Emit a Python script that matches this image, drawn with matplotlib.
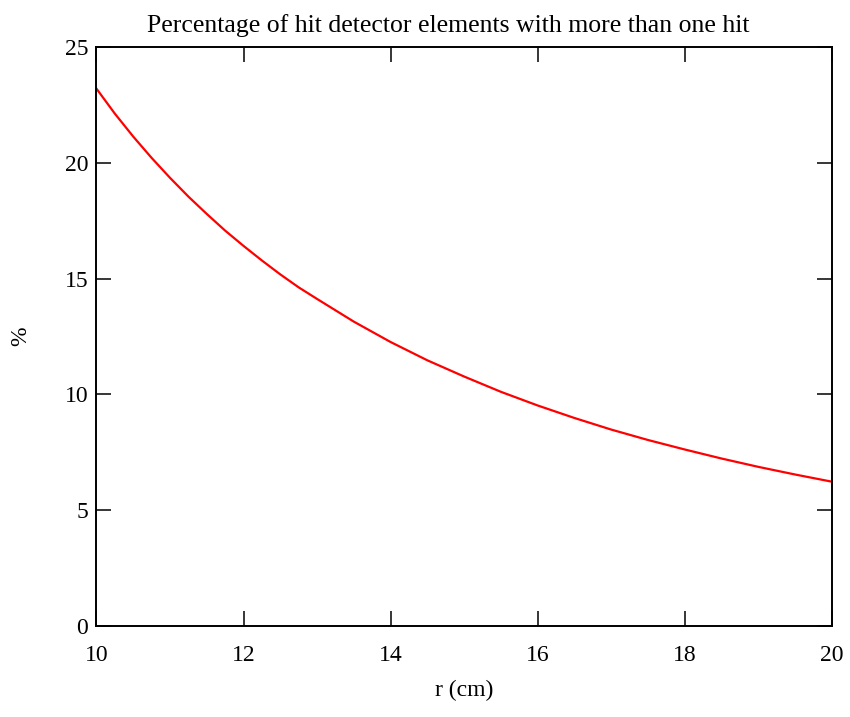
import numpy as np
import matplotlib.pyplot as plt

# radius (cm) and percentage of hit elements with more than one hit
r_cm = [10, 10.25, 10.5, 10.75, 11, 11.25, 11.5, 11.75, 12, 12.25, 12.5, 12.75,
        13, 13.5, 14, 14.5, 15, 15.5, 16, 16.5, 17, 17.5, 18, 18.5, 19, 19.5, 20]
pct = [23.2, 22.12, 21.13, 20.21, 19.35, 18.54, 17.79, 17.07, 16.41, 15.78, 15.18, 14.62,
       14.12, 13.14, 12.26, 11.47, 10.77, 10.11, 9.52, 8.98, 8.48, 8.03, 7.62, 7.23,
       6.87, 6.54, 6.23]

xticks = [10, 12, 14, 16, 18, 20]
yticks = [0, 5, 10, 15, 20, 25]

plt.rcParams['font.family'] = ['Liberation Serif', 'DejaVu Serif']

fig = plt.figure(figsize=(8.5, 7.17), dpi=100)
ax = fig.add_axes([0.1135, 0.127, 0.865, 0.8075])

ax.plot(r_cm, pct, color='red', lw=1.6)

ax.set_xlim(10, 20)
ax.set_ylim(0, 25)
ax.set_xticks(xticks)
ax.set_yticks(yticks)

ax.tick_params(direction='in', length=11, width=1.1, top=True, right=True,
               labelsize=17)
ax.tick_params(axis='x', pad=14)
ax.tick_params(axis='y', pad=6)
for s in ax.spines.values():
    s.set_linewidth(1.4)

ax.set_title('Percentage of hit detector elements with more than one hit',
             fontsize=18.5, pad=11, x=0.478)
ax.set_xlabel('r (cm)', fontsize=17, labelpad=10)
ax.set_ylabel('%', fontsize=17, labelpad=24)

fig.savefig('out.png', dpi=100)
